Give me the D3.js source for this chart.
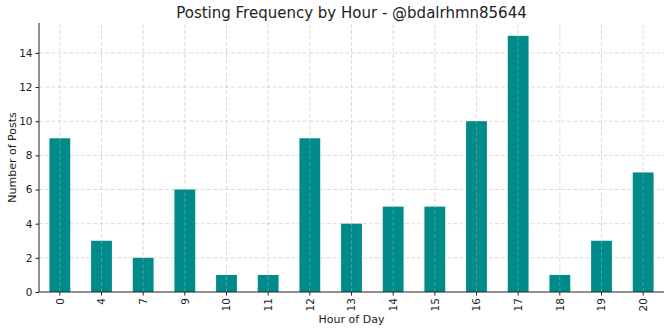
<!DOCTYPE html>
<html><head><meta charset="utf-8">
<script src="https://cdn.jsdelivr.net/npm/d3@7"></script>
<style>body{margin:0;background:#fff}svg{display:block}text{font-family:"DejaVu Sans",sans-serif}</style>
</head><body>
<svg id="c" width="671" height="332"></svg>
<script>
const hours = ["0","4","7","9","10","11","12","13","14","15","16","17","18","19","20"];
const posts = [9,3,2,6,1,1,9,4,5,5,10,15,1,3,7];
const yTicks = [0,2,4,6,8,10,12,14];

const W=671,H=332, m={l:39,r:7,t:23,b:40};
const svg=d3.select("#c");
const x=d3.scaleBand().domain(hours).range([m.l,W-m.r]).paddingInner(0.5).paddingOuter(0.25);
const y=d3.scaleLinear().domain([0,15.75]).range([H-m.b,m.t]);

// horizontal grid (behind bars)
svg.append("g").selectAll("line").data(yTicks.slice(1)).join("line")
  .attr("x1",m.l).attr("x2",W-m.r).attr("y1",d=>y(d)).attr("y2",d=>y(d))
  .attr("stroke","#b0b0b0").attr("stroke-opacity",0.55).attr("stroke-dasharray","4,2").attr("stroke-width",0.8);

// bars
svg.append("g").selectAll("rect").data(posts).join("rect")
  .attr("x",(d,i)=>x(hours[i])).attr("width",x.bandwidth())
  .attr("y",d=>y(d)).attr("height",d=>y(0)-y(d)).attr("fill","#008b8b");

// vertical grid (over bars)
svg.append("g").selectAll("line").data(hours).join("line")
  .attr("x1",d=>x(d)+x.bandwidth()/2).attr("x2",d=>x(d)+x.bandwidth()/2)
  .attr("y1",y(0)).attr("y2",m.t).attr("stroke","#b0b0b0").attr("stroke-opacity",0.55).attr("stroke-dasharray","4,2").attr("stroke-width",0.8);

// axes
const ya=svg.append("g").attr("transform",`translate(${m.l},0)`)
  .call(d3.axisLeft(y).tickValues(yTicks).tickSize(3.5).tickPadding(3));
const xa=svg.append("g").attr("transform",`translate(0,${y(0)})`)
  .call(d3.axisBottom(x).tickSize(3.5).tickPadding(3));
[ya,xa].forEach(a=>{a.select(".domain").attr("stroke","#222").attr("stroke-width",1);
  a.selectAll(".tick line").attr("stroke","#222");
  a.selectAll("text").attr("fill","#222").attr("font-size",10.5).attr("font-family","DejaVu Sans");});
ya.select(".domain").attr("d",`M0,${y(0)}V${m.t}`);
xa.select(".domain").attr("d",`M${m.l},0H${W-m.r}`);
xa.selectAll(".tick text").attr("transform","rotate(-90)").attr("text-anchor","end")
  .attr("x",-6).attr("y",0).attr("dy","0.35em");

svg.append("text").attr("x",(m.l+W-m.r)/2).attr("y",18).attr("text-anchor","middle")
  .attr("font-size",15).attr("fill","#222").text("Posting Frequency by Hour - @bdalrhmn85644");
svg.append("text").attr("x",(m.l+W-m.r)/2).attr("y",323).attr("text-anchor","middle")
  .attr("font-size",11).attr("fill","#222").text("Hour of Day");
svg.append("text").attr("transform",`translate(16,${(y(0)+m.t)/2}) rotate(-90)`).attr("text-anchor","middle")
  .attr("font-size",11).attr("fill","#222").text("Number of Posts");
</script>
</body></html>
